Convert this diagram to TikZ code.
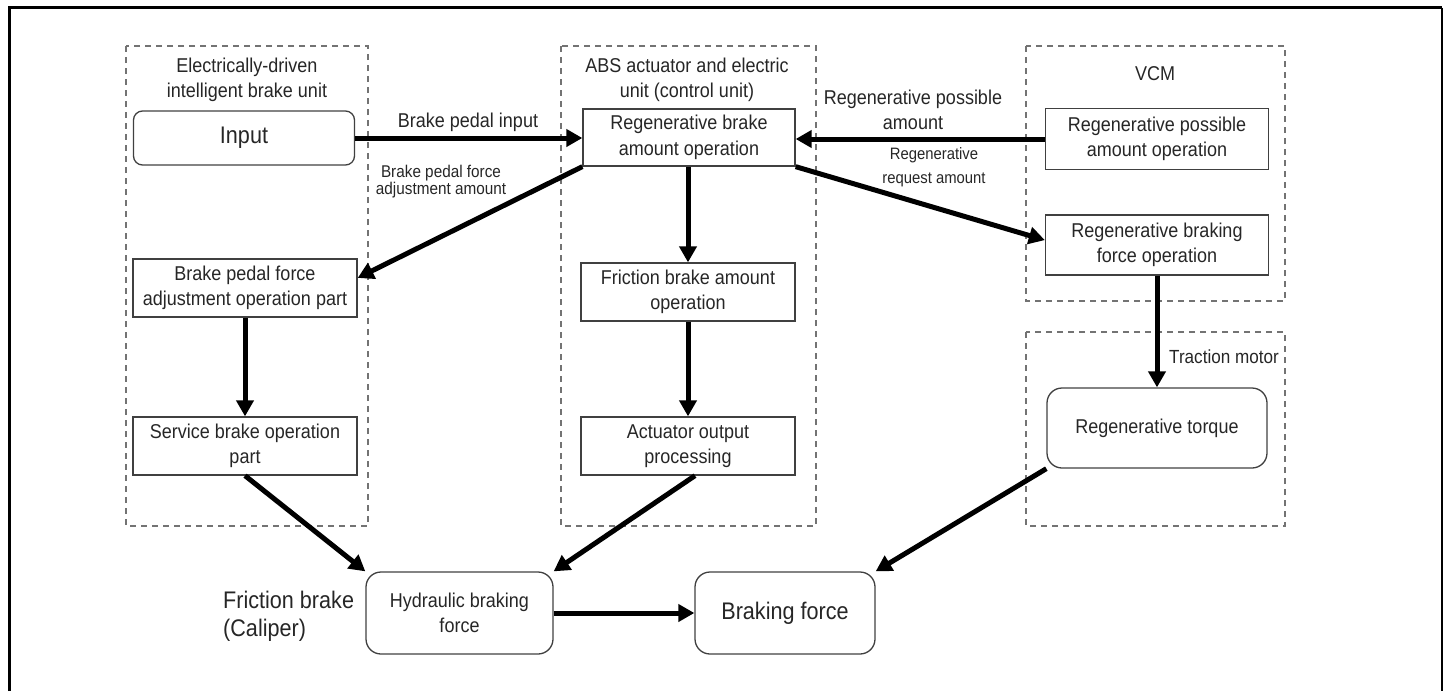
\documentclass[tikz,border=0pt]{standalone}
\usepackage{fontspec}
\setmainfont{Liberation Sans}[FakeStretch=0.9]
\usetikzlibrary{arrows.meta,calc}
\newcommand\szMain{\fontsize{20}{25.5}\selectfont}
\newcommand\szBig{\fontsize{24}{28}\selectfont}
\newcommand\szSmall{\fontsize{17}{15.5}\selectfont}
\newcommand\szSmallB{\fontsize{16.5}{24}\selectfont}
\tikzset{
  box/.style={draw=black!75, line width=1.3pt, align=center, inner sep=0pt, font=\szMain, text=black!85},
  rbox/.style={box, rounded corners=9pt},
  rboxb/.style={box, rounded corners=15pt},
  grp/.style={draw=black!55, dash pattern=on 6pt off 5pt, line width=1.4pt},
  lbl/.style={align=center, inner sep=0pt, font=\szMain, text=black!85},
  arr/.style={line width=5pt, draw=black, -{Triangle[length=16pt,width=17pt]}},
  frame/.style={draw=black, line width=2.6pt}
}
\begin{document}
\begin{tikzpicture}[x=1pt,y=-1pt]
\useasboundingbox (0,0) rectangle (1448,691);
% outer frame (open at the bottom)
\draw[frame] (9.5,691) -- (9.5,7.5) -- (1442,7.5);
\draw[draw=black, line width=1.8pt] (1442,7.5) -- (1442,691);
% dashed groups
\draw[grp] (126,46) rectangle (368,526);
\draw[grp] (561,46) rectangle (816,526);
\draw[grp] (1026,46) rectangle (1285,301);
\draw[grp] (1026,332) rectangle (1285,526);
% group titles
\node[lbl] (t1) at (247,80) {Electrically-driven\\intelligent brake unit};
\node[lbl] (t2) at (687,80) {ABS actuator and electric\\unit (control unit)};
\node[lbl] (t3) at (1155,74) {VCM};
\node[lbl, anchor=east, font=\fontsize{19}{22}\selectfont] (t4) at (1279,357) {Traction motor};
\node[lbl, anchor=west, align=left, font=\szBig] (t5) at (223,616) {Friction brake\\(Caliper)};
% blocks
\node[rbox, minimum width=221pt, minimum height=54pt, font=\szBig] (inp) at (244,138) {Input};
\node[box, minimum width=224pt, minimum height=58pt] (adj) at (245,288) {Brake pedal force\\adjustment operation part};
\node[box, minimum width=224pt, minimum height=58pt] (svc) at (245,446) {Service brake operation\\part};
\node[box, minimum width=212pt, minimum height=57pt] (rba) at (689,137.5) {Regenerative brake\\amount operation};
\node[box, minimum width=214pt, minimum height=58pt] (fba) at (688,292) {Friction brake amount\\operation};
\node[box, minimum width=214pt, minimum height=58pt] (aop) at (688,446) {Actuator output\\processing};
\node[box, minimum width=223pt, minimum height=61pt] (rpa) at (1157,139) {Regenerative possible\\amount operation};
\node[box, minimum width=223pt, minimum height=60pt] (rbf) at (1157,245) {Regenerative braking\\force operation};
\node[rboxb, minimum width=220pt, minimum height=80pt] (rtq) at (1157,428) {Regenerative torque};
\node[rboxb, minimum width=187pt, minimum height=82pt] (hyd) at (459.5,613) {Hydraulic braking\\force};
\node[rboxb, minimum width=180pt, minimum height=82pt, font=\szBig] (brk) at (785,613) {Braking force};
% connector labels
\node[lbl] (l1) at (468,122) {Brake pedal input};
\node[lbl, font=\szSmall] (l2) at (441,182) {Brake pedal force\\adjustment amount};
\node[lbl] (l3) at (913,110) {Regenerative possible\\amount};
\node[lbl, font=\szSmallB] (l4) at (934,167) {Regenerative\\request amount};
% connectors
\draw[arr] (inp.east) -- (rba.west |- inp.east);
\draw[arr] (rpa.west) -- (rba.east |- rpa.west);
\draw[arr] (rba.south west) -- ($(adj.north east)!0.33!(adj.south east)$);
\draw[arr] (rba.south east) -- ($(rbf.north west)!0.42!(rbf.south west)$);
\draw[arr] (rba.south -| fba.north) -- (fba.north);
\draw[arr] (fba.south) -- (aop.north);
\draw[arr] (adj.south) -- (svc.north);
\draw[arr] (rbf.south) -- (rtq.north);
\draw[arr] (svc.south) -- (hyd.north west);
\draw[arr] ($(aop.south)+(7,0)$) -- (hyd.north east);
\draw[arr] (hyd.east) -- (brk.west);
\draw[arr] (rtq.south west) -- (brk.north east);
\end{tikzpicture}
\end{document}
